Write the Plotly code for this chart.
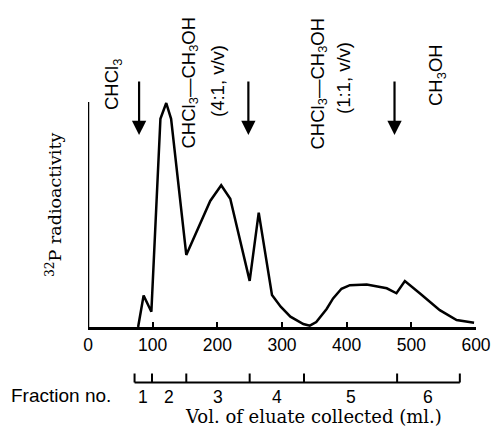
import plotly.graph_objects as go

# Elution profile
volume_ml = [77.5, 86, 98, 112, 121, 128.5, 152, 189, 206, 220, 250, 264, 284.5, 298, 313,
             333, 343, 353, 369, 379, 392, 405, 431, 462, 477, 490, 513, 544, 570, 597]
activity = [0, 14, 6.8, 92.5, 99.5, 92.5, 32, 56, 63, 57, 20.5, 50.8, 14.2, 9, 4.6,
            1.3, 0.6, 2.2, 8, 12.7, 17, 18.6, 18.9, 17.2, 15, 20.4, 15, 7.5, 3.1, 1.9]

x_ticks = [0, 100, 200, 300, 400, 500, 600]

# Solvent changes (arrows) and fractions
arrow_ml = [79, 248, 474]
fraction_edges = [72, 99, 152, 250, 334, 478, 575]
fraction_labels = ["1", "2", "3", "4", "5", "6"]

W, H = 492, 430
L, R, T, B = 88, 16, 20, 103
plot_h = H - T - B
YMAX = 136.4
ppu = plot_h / YMAX

def v_of(py):
    return (H - B - py) / ppu

def ml_of(px):
    return (px - L) / (W - L - R) * 600

def py_paper(py):
    return (H - B - py) / plot_h

def px_paper(px):
    return (px - L) / (W - L - R)

fig = go.Figure()
fig.add_trace(go.Scatter(x=volume_ml, y=activity, mode="lines",
                         line=dict(color="black", width=2.5), hoverinfo="skip",
                         showlegend=False, cliponaxis=False))

sans = "Liberation Sans"
serif = "DejaVu Serif"

shapes = []
# y axis line (partial height)
shapes.append(dict(type="line", xref="x", yref="y", x0=0, x1=0, y0=0, y1=100,
                   line=dict(color="black", width=2.5)))
# fraction axis
fy = py_paper(382.5)
fy_top = py_paper(373.5)
shapes.append(dict(type="line", xref="x", yref="paper", x0=fraction_edges[0],
                   x1=fraction_edges[-1], y0=fy, y1=fy, line=dict(color="black", width=2)))
for e in fraction_edges:
    shapes.append(dict(type="line", xref="x", yref="paper", x0=e, x1=e, y0=fy, y1=fy_top,
                       line=dict(color="black", width=2)))

ann = []
for i, lab in enumerate(fraction_labels):
    mid = (fraction_edges[i] + fraction_edges[i + 1]) / 2
    ann.append(dict(x=mid, y=py_paper(397.5), xref="x", yref="paper", text=lab,
                    showarrow=False, font=dict(family=sans, size=17.5, color="black"),
                    xanchor="center", yanchor="middle"))
ann.append(dict(x=px_paper(61), y=py_paper(395.5), xref="paper", yref="paper",
                text="Fraction no.", showarrow=False,
                font=dict(family=sans, size=19, color="black"),
                xanchor="center", yanchor="middle"))
ann.append(dict(x=px_paper(313.5), y=py_paper(416), xref="paper", yref="paper",
                text="Vol. of eluate collected (ml.)", showarrow=False,
                font=dict(family=serif, size=18, color="black"),
                xanchor="center", yanchor="middle"))
ann.append(dict(x=px_paper(54), y=py_paper(205), xref="paper", yref="paper",
                text="<sup>32</sup>P radioactivity", showarrow=False, textangle=-90,
                font=dict(family=serif, size=17.5, color="black"),
                xanchor="center", yanchor="middle"))

# solvent labels (rotated)
solvent_texts = [
    ("CHCl<sub>3</sub>", 113, 85),
    ("CHCl<sub>3</sub>\u2014CH<sub>3</sub>OH", 189, 82.5),
    ("(4:1, v/v)", 217.5, 81.5),
    ("CHCl<sub>3</sub>\u2014CH<sub>3</sub>OH", 318, 83.5),
    ("(1:1, v/v)", 343.5, 78.5),
    ("CH<sub>3</sub>OH", 437, 75),
]
for t, px, py in solvent_texts:
    ann.append(dict(x=ml_of(px), y=v_of(py), xref="x", yref="y", text=t,
                    showarrow=False, textangle=-90,
                    font=dict(family=sans, size=18.5, color="black"),
                    xanchor="center", yanchor="middle"))

for a in arrow_ml:
    ann.append(dict(x=a, y=v_of(135), xref="x", yref="y", text="", showarrow=True,
                    ax=0, ay=-55, axref="pixel", ayref="pixel",
                    arrowhead=2, arrowsize=1.3, arrowwidth=2.2, arrowcolor="black",
                    standoff=0))

fig.update_layout(
    width=W, height=H,
    margin=dict(l=L, r=R, t=T, b=B, autoexpand=False),
    paper_bgcolor="white", plot_bgcolor="white",
    shapes=shapes, annotations=ann,
    xaxis=dict(range=[0, 600], tickvals=x_ticks, ticktext=[str(v) for v in x_ticks],
               showline=True, linecolor="black", linewidth=2.5, ticks="inside",
               ticklen=5, tickwidth=2, tickcolor="black", showgrid=False,
               zeroline=False, automargin=False,
               tickfont=dict(family=sans, size=17.5, color="black")),
    yaxis=dict(range=[0, YMAX], visible=False, showgrid=False, zeroline=False,
               automargin=False),
)

fig.write_html("out.html", config={"displayModeBar": False},
               post_script="document.body.style.margin='0';document.body.style.overflow='hidden';")
